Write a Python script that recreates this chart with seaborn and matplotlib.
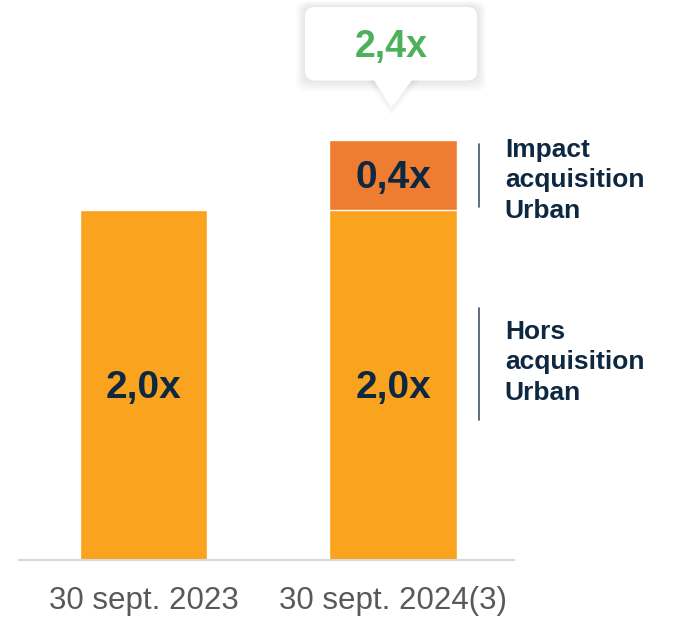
import numpy as np
import pandas as pd
import matplotlib
matplotlib.use("Agg")
import matplotlib.pyplot as plt
from matplotlib.patches import FancyBboxPatch, Polygon
import seaborn as sns

sns.set_style("white")
plt.rcParams['font.family'] = ['Liberation Sans', 'DejaVu Sans']

# données
periods = ['30 sept. 2023', '30 sept. 2024(3)']
hors_acquisition = [2.0, 2.0]
impact_urban = [0.0, 0.4]
total = [h + i for h, i in zip(hors_acquisition, impact_urban)]
segment_notes = ['Impact\nacquisition\nUrban', 'Hors\nacquisition\nUrban']

orange = '#F9A31E'
orange_dark = '#EE7D31'
navy = '#0E2841'
green = '#4DB05B'

df = pd.DataFrame({'period': periods, 'base': hors_acquisition,
                   'impact': impact_urban, 'total': total})

fig = plt.figure(figsize=(6.76, 6.17), dpi=100)
ax = fig.add_axes([19 / 676, 1 - 560 / 617, (514 - 19) / 676, 560 / 617])

# empilement : total en orange foncé, base par-dessus
sns.barplot(data=df, x='period', y='total', color=orange_dark, saturation=1,
            width=0.51, ax=ax)
sns.barplot(data=df, x='period', y='base', color=orange, saturation=1,
            width=0.51, ax=ax)

ax.set_xlim(-0.5, 1.485)
ax.set_ylim(0, 3.2)
ax.set_xlabel('')
ax.set_ylabel('')
ax.set_yticks([])
for s in ['top', 'right', 'left']:
    ax.spines[s].set_visible(False)
ax.spines['bottom'].set_color('#d9d9d9')
ax.spines['bottom'].set_linewidth(1.5)
ax.tick_params(axis='x', length=0, pad=19, labelsize=22.5, labelcolor='#595959')

# étiquettes des segments
for i, (b, imp) in enumerate(zip(hors_acquisition, impact_urban)):
    ax.text(i, b * 0.49, f'{b:.1f}x'.replace('.', ','), ha='center', va='center',
            fontsize=28, fontweight='bold', color=navy)
    if imp > 0:
        ax.text(i, b + imp * 0.45, f'{imp:.1f}x'.replace('.', ','), ha='center',
                va='center', fontsize=28, fontweight='bold', color=navy)

# notes à droite avec barres verticales
last = len(periods) - 1
b, imp = hors_acquisition[last], impact_urban[last]
spans = [(b + imp * 0.05, b + imp * 0.95), (b * 0.4, b * 0.72)]
offsets = [-0.03, 0.01]
for (y0, y1), note, off in zip(spans, segment_notes, offsets):
    ax.plot([last + 0.345, last + 0.345], [y0, y1], color='#44546A', lw=1.2,
            clip_on=False)
    ax.text(last + 0.448, (y0 + y1) / 2 + off, note, ha='left', va='center',
            fontsize=19, fontweight='bold', color=navy, linespacing=1.33,
            clip_on=False)

# bulle du total
t = total[last]
bx0, bx1 = last - 0.353, last + 0.337
by0, by1 = t + 0.34, t + 0.76
for k in np.linspace(0.004, 0.035, 8):
    sh = FancyBboxPatch((bx0 - k, by0 - k * 1.8), bx1 - bx0 + 2 * k,
                        by1 - by0 + k * 2.8,
                        boxstyle='round,pad=0,rounding_size=0.04',
                        fc='#000000', ec='none', alpha=0.011, clip_on=False,
                        mutation_aspect=1.3)
    ax.add_patch(sh)
for k in np.linspace(0.005, 0.03, 5):
    tri_sh = Polygon([[last - 0.08 - k, by0], [last + 0.08 + k, by0],
                      [last - 0.006, t + 0.185 - k * 1.5]],
                     closed=True, fc='#000000', ec='none', alpha=0.013,
                     clip_on=False)
    ax.add_patch(tri_sh)
box = FancyBboxPatch((bx0, by0), bx1 - bx0, by1 - by0,
                     boxstyle='round,pad=0,rounding_size=0.04',
                     fc='white', ec='none', clip_on=False, mutation_aspect=1.3)
ax.add_patch(box)
tri = Polygon([[last - 0.08, by0 + 0.01], [last + 0.08, by0 + 0.01],
               [last - 0.006, t + 0.185]],
              closed=True, fc='white', ec='none', clip_on=False)
ax.add_patch(tri)
ax.text(last - 0.006, (by0 + by1) / 2 - 0.02, f'{t:.1f}x'.replace('.', ','),
        ha='center', va='center', fontsize=27, fontweight='bold', color=green)

fig.savefig('out.png', dpi=100)
